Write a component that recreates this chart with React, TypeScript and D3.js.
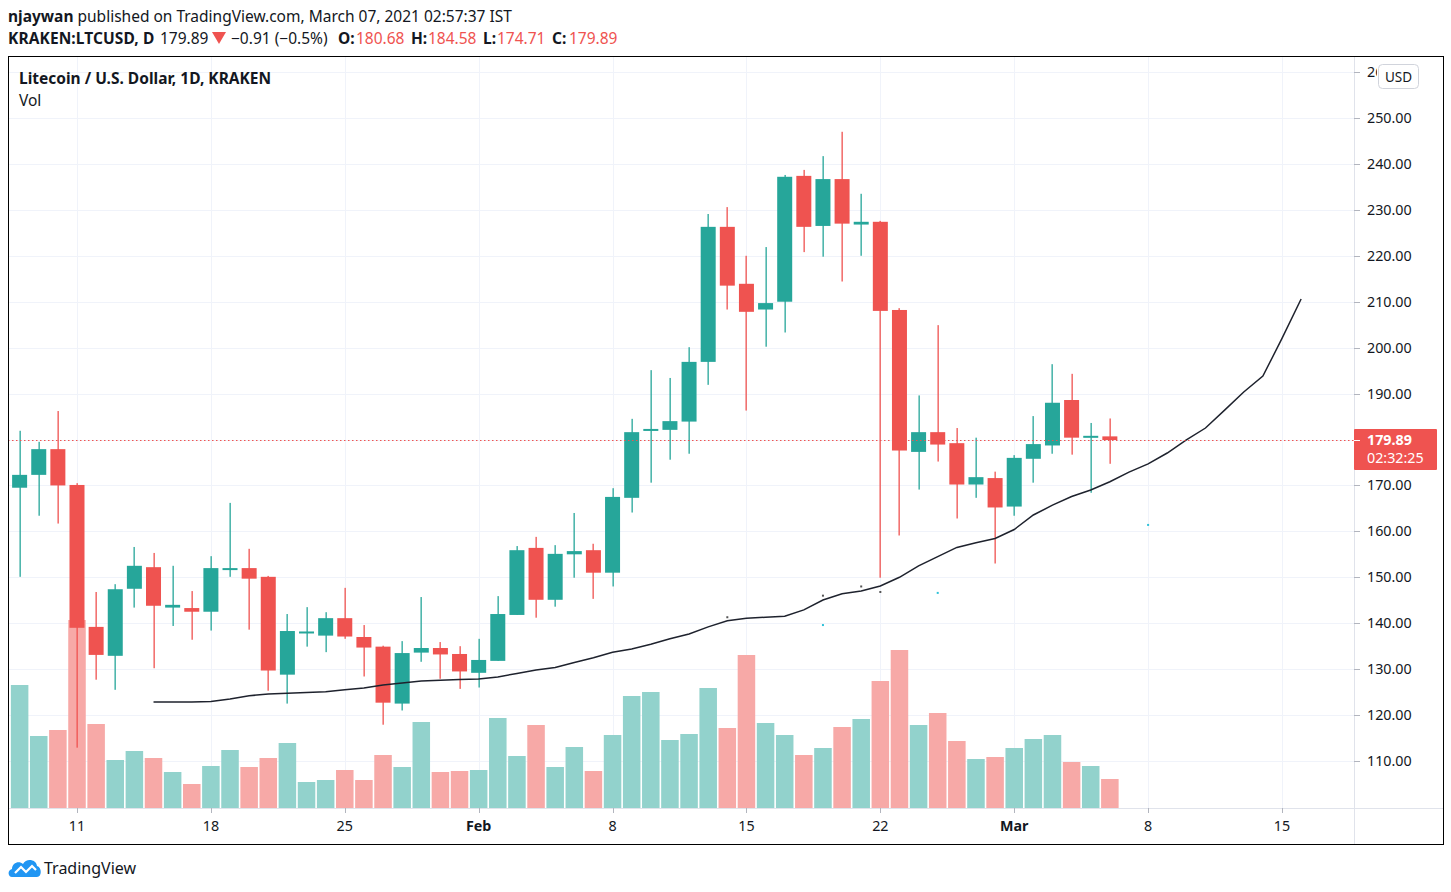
import * as d3 from "d3";
import { useEffect } from "react";

// daily candles, Kraken LTC/USD, 8 Jan .. 6 Mar 2021
const firstDay = new Date(2021, 0, 8);
const lastDay = new Date(2021, 2, 6);

const open = [
  169.5, 172.3, 177.9, 170.1, 139.2, 132.9, 147.5, 152.2, 143.4, 143.3, 142.5, 151.7, 152.0, 150.1, 128.8, 137.9,
  137.3, 141.1, 137.0, 134.9, 122.5, 133.6, 134.6, 133.3, 129.2, 131.8, 141.8, 156.4, 145.1, 155.0, 155.9, 151.0,
  167.3, 181.9, 182.1, 183.9, 196.9, 226.3, 213.9, 208.3, 210.0, 237.4, 226.5, 236.7, 226.8, 227.4, 208.2, 177.3,
  181.6, 179.2, 170.2, 171.6, 165.4, 175.8, 178.7, 188.6, 180.4, 180.68,
];
const high = [
  181.9, 179.5, 186.2, 170.5, 146.8, 148.5, 156.6, 155.3, 152.5, 147.0, 154.6, 166.2, 156.2, 150.3, 142.0, 143.5,
  142.4, 147.7, 139.6, 135.1, 136.1, 145.7, 135.9, 135.0, 136.6, 145.9, 156.8, 158.8, 157.0, 164.0, 157.3, 169.4,
  184.5, 195.1, 193.4, 200.1, 229.1, 230.6, 220.0, 221.9, 237.6, 238.7, 241.7, 247.0, 233.5, 227.6, 208.6, 189.6,
  204.9, 182.5, 180.4, 173.0, 176.6, 185.1, 196.4, 194.3, 183.6, 184.58,
];
const low = [
  150.1, 163.4, 161.7, 112.9, 127.7, 125.5, 143.4, 130.2, 139.4, 136.4, 138.4, 150.1, 138.6, 125.3, 122.5, 134.9,
  133.7, 136.6, 128.4, 117.9, 121.0, 131.6, 127.9, 125.7, 126.0, 131.8, 141.8, 141.2, 143.6, 149.9, 145.3, 148.0,
  164.1, 170.6, 175.6, 176.9, 191.9, 208.3, 186.3, 200.2, 203.3, 220.8, 219.8, 214.4, 220.0, 149.9, 159.1, 169.1,
  175.2, 162.8, 167.3, 153.0, 163.4, 170.6, 176.9, 176.7, 168.4, 174.71,
];
const close = [
  172.3, 177.9, 170.0, 139.0, 133.1, 147.4, 152.5, 143.8, 144.0, 142.5, 152.0, 152.0, 149.7, 129.7, 138.3, 138.2,
  141.1, 137.1, 134.7, 122.7, 133.5, 134.6, 133.2, 129.5, 132.0, 142.0, 155.9, 145.1, 155.1, 155.7, 151.0, 167.5,
  181.6, 182.3, 184.0, 196.9, 226.3, 213.5, 207.8, 209.7, 237.2, 226.3, 236.7, 227.0, 227.4, 208.0, 177.6, 181.6,
  178.9, 170.2, 171.8, 165.2, 176.0, 179.0, 188.0, 180.4, 180.8, 179.89,
];
// volume, thousands of LTC
const volume = [
  123, 72, 78, 188, 84, 48, 57, 50, 36, 24, 42, 58, 41, 50, 65, 26, 28, 38, 28, 53, 41, 86, 36, 37,
  38, 90, 52, 83, 41, 61, 37, 73, 112, 116, 68, 74, 120, 80, 153, 85, 73, 53, 60, 81, 89, 127, 158, 83, 95, 67, 49, 51,
  60, 69, 73, 46, 42, 29,
];

// the black overlay line, one value per day from 15 Jan to 16 Mar
const lineStart = new Date(2021, 0, 15);
const lineValues = [
  122.85, 122.85, 122.85, 122.97, 123.5, 124.2, 124.6, 124.75, 124.9, 125.1, 125.5, 125.9, 126.55, 127.0, 127.4,
  127.6, 127.75, 127.86, 128.3, 129.05, 129.8, 130.35, 131.45, 132.5, 133.67, 134.4, 135.4, 136.6, 137.65, 139.2,
  140.55, 141.1, 141.3, 141.5, 142.9, 145.05, 146.4, 147.0, 148.1, 150.0, 152.5, 154.5, 156.5, 157.5, 158.45, 160.4,
  163.56, 165.7, 167.6, 169.0, 170.8, 172.9, 174.7, 177.06, 179.9, 182.5, 186.4, 190.35, 193.8, 202.0, 210.6,
];
// stray indicator dots
const dotDates = [new Date(2021, 1, 14), new Date(2021, 1, 19), new Date(2021, 1, 21), new Date(2021, 1, 22)];
const dotValues = [141.3, 146.0, 148.0, 146.8];
const tealDotDates = [new Date(2021, 1, 19), new Date(2021, 1, 25), new Date(2021, 2, 8)];
const tealDotValues = [139.6, 146.6, 161.4];

const priceTicks = [110, 120, 130, 140, 150, 160, 170, 180, 190, 200, 210, 220, 230, 240, 250, 260];
const timeTickDates = [
  new Date(2021, 0, 11), new Date(2021, 0, 18), new Date(2021, 0, 25), new Date(2021, 1, 1), new Date(2021, 1, 8),
  new Date(2021, 1, 15), new Date(2021, 1, 22), new Date(2021, 2, 1), new Date(2021, 2, 8), new Date(2021, 2, 15),
];
const timeTickLabels = ["11", "18", "25", "Feb", "8", "15", "22", "Mar", "8", "15"];

const lastPrice = 179.89;
const countdown = "02:32:25";

const UP = "#26a69a";
const DOWN = "#ef5350";
const UP_VOL = "#92d2cc";
const DOWN_VOL = "#f7a9a7";
const TEXT = "#131722";
const GRID = "#f0f3fa";
const FONT = "'Noto Sans', 'Open Sans', sans-serif";

export default function App() {
  useEffect(() => {
    document.body.style.margin = "0";
  }, []);

  const W = 1451;
  const H = 892;
  const frame = { left: 8, top: 56, right: 1443, bottom: 844 };
  const axisX = 1354;
  const axisY = 808;

  const days = d3.timeDay.range(firstDay, d3.timeDay.offset(lastDay, 1));
  const x = d3.scaleTime().domain([timeTickDates[0], timeTickDates[9]]).range([77, 1282]);
  const y = d3.scaleLinear().domain([110, 250]).range([761, 118]);
  const vy = d3.scaleLinear().domain([0, d3.max(volume)!]).range([axisY, 620]);
  const dayW = x(d3.timeDay.offset(firstDay, 1)) - x(firstDay);
  const bodyW = 15;

  const lineDays = lineValues.map((_, i) => d3.timeDay.offset(lineStart, i));
  const line = d3
    .line<number>()
    .x((_, i) => x(lineDays[i]))
    .y(d => y(d));

  const crisp = (v: number) => Math.round(v) + 0.5;
  const fmt = d3.format(".2f");

  return (
    <svg width={W} height={H} style={{ display: "block", fontFamily: FONT }}>
      <rect width={W} height={H} fill="#fff" />

      {/* header */}
      <text x={8} y={22} fontSize={15.5} fill={TEXT}>
        <tspan fontWeight={700}>njaywan</tspan> published on TradingView.com, March 07, 2021 02:57:37 IST
      </text>
      <g fontSize={15.5} fill={TEXT}>
        <text x={8} y={44} fontWeight={700} letterSpacing={0.1}>
          KRAKEN:LTCUSD, D
        </text>
        <text x={160} y={44}>179.89</text>
        <path d="M212,32 L226,32 L219,44 Z" fill={DOWN} />
        <text x={231} y={44}>−0.91 (−0.5%)</text>
        <text x={338} y={44} fontWeight={700}>O:</text>
        <text x={356} y={44} fill={DOWN}>180.68</text>
        <text x={411} y={44} fontWeight={700}>H:</text>
        <text x={428} y={44} fill={DOWN}>184.58</text>
        <text x={483} y={44} fontWeight={700}>L:</text>
        <text x={497} y={44} fill={DOWN}>174.71</text>
        <text x={552} y={44} fontWeight={700}>C:</text>
        <text x={569} y={44} fill={DOWN}>179.89</text>
      </g>

      <defs>
        <clipPath id="pane">
          <rect x={frame.left} y={frame.top} width={axisX - frame.left} height={axisY - frame.top} />
        </clipPath>
        <clipPath id="axisTop">
          <rect x={axisX} y={frame.top} width={1377 - axisX} height={30} />
        </clipPath>
      </defs>

      {/* grid */}
      <g clipPath="url(#pane)">
        {priceTicks.map(t => (
          <line key={t} x1={frame.left} x2={axisX} y1={crisp(y(t))} y2={crisp(y(t))} stroke={GRID} />
        ))}
        {timeTickDates.map((d, i) => (
          <line key={i} x1={crisp(x(d))} x2={crisp(x(d))} y1={frame.top} y2={axisY} stroke={GRID} />
        ))}
      </g>

      <g clipPath="url(#pane)">
        {/* volume */}
        {days.map((d, i) => (
          <rect
            key={"v" + i}
            x={x(d) - dayW / 2 + 0.8}
            y={vy(volume[i])}
            width={dayW - 1.6}
            height={axisY - vy(volume[i])}
            fill={close[i] >= open[i] ? UP_VOL : DOWN_VOL}
          />
        ))}

        {/* candles */}
        {days.map((d, i) => {
          const c = close[i] >= open[i] ? UP : DOWN;
          const top = y(Math.max(open[i], close[i]));
          const h = Math.max(2, y(Math.min(open[i], close[i])) - top);
          const cx = x(d);
          return (
            <g key={"c" + i}>
              <rect x={Math.round(cx) - 0.5} y={y(high[i])} width={1.3} height={y(low[i]) - y(high[i])} fill={c} />
              <rect x={cx - bodyW / 2} y={top} width={bodyW} height={h} fill={c} />
            </g>
          );
        })}

        {/* overlay line */}
        <path d={line(lineValues)!} fill="none" stroke="#1e222d" strokeWidth={1.5} />
        {dotDates.map((d, i) => (
          <rect key={"d" + i} x={x(d) - 1} y={y(dotValues[i]) - 1} width={2} height={2} fill="#555" />
        ))}
        {tealDotDates.map((d, i) => (
          <rect key={"t" + i} x={x(d) - 1} y={y(tealDotValues[i]) - 1} width={2} height={2} fill="#2fc2d9" />
        ))}

        {/* last price line */}
        <line
          x1={frame.left}
          x2={axisX}
          y1={crisp(y(lastPrice))}
          y2={crisp(y(lastPrice))}
          stroke={DOWN}
          strokeDasharray="1.5 2.5"
        />
      </g>

      {/* pane legend */}
      <text x={19} y={84} fontSize={15.5} fontWeight={700} fill={TEXT}>
        Litecoin / U.S. Dollar, 1D, KRAKEN
      </text>
      <text x={19} y={106} fontSize={15.5} fill={TEXT}>
        Vol
      </text>

      {/* axis separators */}
      <line x1={crisp(axisX)} x2={crisp(axisX)} y1={frame.top} y2={frame.bottom} stroke="#e0e3eb" />
      <line x1={frame.left} x2={frame.right} y1={crisp(axisY)} y2={crisp(axisY)} stroke="#e0e3eb" />

      {/* price axis; the top label sits under the currency badge */}
      {priceTicks.map(t => (
        <g key={"p" + t} clipPath={t === 260 ? "url(#axisTop)" : undefined}>
          <line x1={axisX} x2={axisX + 6} y1={crisp(y(t))} y2={crisp(y(t))} stroke="#b2b5be" />
          <text x={1367} y={y(t)} dy="0.35em" fontSize={14.3} fill={TEXT}>
            {fmt(t)}
          </text>
        </g>
      ))}
      <rect x={1378.5} y={64.5} width={40} height={24} rx={4} fill="#fff" stroke="#d1d4dc" />
      <text x={1398.5} y={77} dy="0.35em" textAnchor="middle" fontSize={13.5} fill={TEXT}>
        USD
      </text>

      {/* last price label */}
      <rect x={axisX} y={y(lastPrice) - 11} width={83} height={41} rx={1} fill={DOWN} />
      <line x1={axisX} x2={axisX + 6} y1={crisp(y(lastPrice))} y2={crisp(y(lastPrice))} stroke="#fff" />
      <text x={1367} y={y(lastPrice)} dy="0.35em" fontSize={14.3} fontWeight={700} fill="#fff">
        {fmt(lastPrice)}
      </text>
      <text x={1367} y={y(lastPrice) + 18} dy="0.35em" fontSize={14.3} fill="#fff">
        {countdown}
      </text>

      {/* time axis */}
      {timeTickDates.map((d, i) => (
        <g key={"x" + i}>
          <line x1={crisp(x(d))} x2={crisp(x(d))} y1={axisY} y2={axisY + 5} stroke="#b2b5be" />
          <text
            x={x(d)}
            y={826}
            dy="0.35em"
            textAnchor="middle"
            fontSize={14.3}
            fontWeight={timeTickLabels[i].length > 2 ? 700 : 400}
            fill={TEXT}
          >
            {timeTickLabels[i]}
          </text>
        </g>
      ))}

      {/* chart frame */}
      <rect
        x={frame.left + 0.5}
        y={frame.top + 0.5}
        width={frame.right - frame.left}
        height={frame.bottom - frame.top}
        fill="none"
        stroke="#000"
      />

      {/* footer logo */}
      <g transform="translate(8,857)">
        <path
          d="M4 20 C0 20 -1 13 4 12 C4 6 11 3 15 7 C18 1 28 2 29 9 C34 10 34 20 29 20 Z"
          fill="#2196f3"
        />
        <polyline points="7,16 13,10 18,15 24,9 28,13" fill="none" stroke="#fff" strokeWidth={2.2} />
      </g>
      <text x={44} y={868} dy="0.35em" fontSize={16} fill={TEXT}>
        TradingView
      </text>
    </svg>
  );
}
